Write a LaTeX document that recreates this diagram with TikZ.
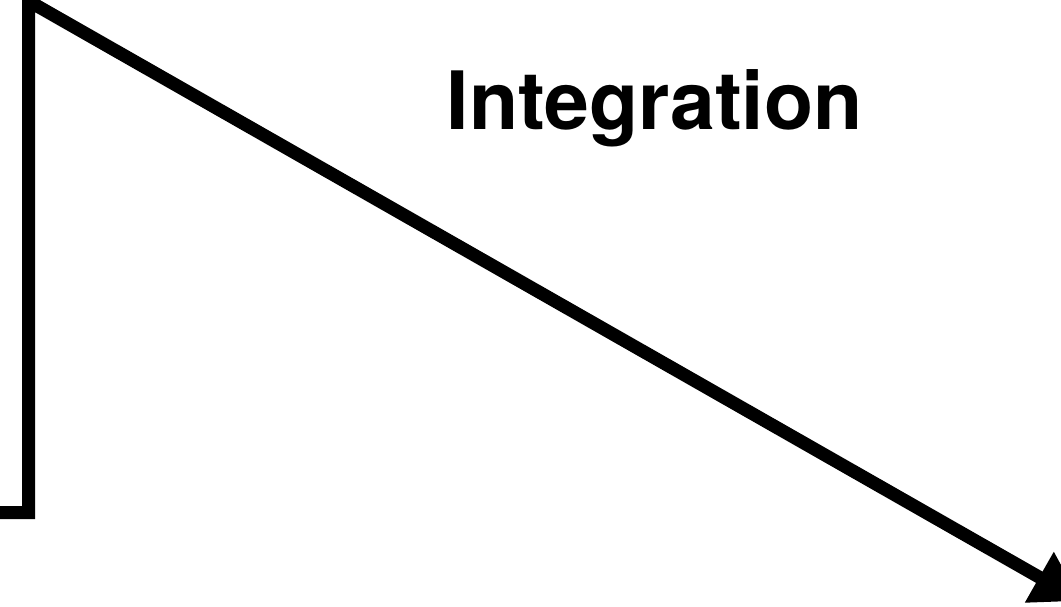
\documentclass[tikz,border=0pt]{standalone}
\usepackage{fontspec}
\setmainfont{TeX Gyre Heros}
\usetikzlibrary{arrows.meta}
\tikzset{
  flow/.style={line width=13pt, line join=miter, -{Triangle[length=48pt,width=55pt]}},
  title/.style={font=\bfseries\fontsize{80.5}{90}\selectfont, inner sep=0pt, anchor=base west}
}
\begin{document}
\begin{tikzpicture}[x=1pt,y=1pt]
  \useasboundingbox (0,0) rectangle (1061,606);
  \clip (0,0) rectangle (1061,606);
  \coordinate (start) at (-10,93.5);
  \coordinate (foot) at (28.5,93.5);
  \coordinate (top) at (28.5,605);
  \coordinate (tip) at (1081,5);
  \draw[flow] (start) -- (foot) -- (top) -- (tip);
  \node[title] (label) at (446.5,476) {Integration};
\end{tikzpicture}
\end{document}
